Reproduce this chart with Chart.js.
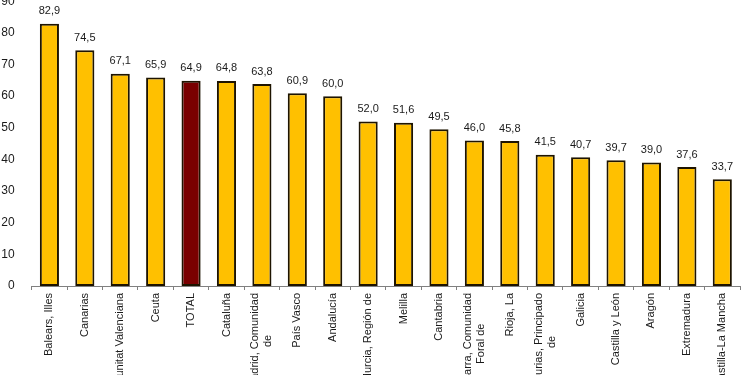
<!DOCTYPE html>
<html>
<head>
<meta charset="utf-8">
<script src="https://cdn.jsdelivr.net/npm/chart.js@4"></script>
<style>
  html,body{margin:0;padding:0;background:#fff;overflow:hidden;width:750px;height:375px;}
  #wrap{position:absolute;left:0;top:-15px;width:750px;height:430px;}
</style>
</head>
<body>
<div id="wrap"><canvas id="myChart"></canvas></div>
<script>
// regions, sorted by value (TOTAL in between)
const regiones=["Balears, Illes","Canarias","Comunitat Valenciana","Ceuta","TOTAL","Cataluña",
  ["Madrid, Comunidad","de"],"País Vasco","Andalucía","Murcia, Región de","Melilla","Cantabria",
  ["Navarra, Comunidad","Foral de"],"Rioja, La",["Asturias, Principado","de"],"Galicia",
  "Castilla y León","Aragón","Extremadura","Castilla-La Mancha"];
const valores=[82.9,74.5,67.1,65.9,64.9,64.8,63.8,60.9,60.0,52.0,51.6,49.5,46.0,45.8,41.5,40.7,39.7,39.0,37.6,33.7];
const yTicks=[0,10,20,30,40,50,60,70,80,90];

const FONT="Liberation Sans, Arial, sans-serif";

//value labels over bars
const valueLabels={
  id:'valueLabels',
  afterDatasetsDraw(chart){
    const ctx=chart.ctx;
    const meta=chart.getDatasetMeta(0);
    ctx.save();
    ctx.font='11px '+FONT;
    ctx.fillStyle='#1a1a1a';
    ctx.textAlign='center';
    ctx.textBaseline='bottom';
    meta.data.forEach((bar,i)=>{
      ctx.fillText(valores[i].toFixed(1).replace('.',','),bar.x,bar.y-7);
    });
    ctx.restore();
  }
};

//vertical category labels, lines centred like the original
const xLabels={
  id:'xLabels',
  afterDraw(chart){
    const ctx=chart.ctx;
    const xs=chart.scales.x;
    ctx.save();
    ctx.font='11px '+FONT;
    ctx.fillStyle='#1a1a1a';
    ctx.textAlign='center';
    ctx.textBaseline='middle';
    regiones.forEach((lab,i)=>{
      const lines=Array.isArray(lab)?lab:[lab];
      const w=Math.max(...lines.map(l=>ctx.measureText(l).width));
      const x=xs.getPixelForTick(i);
      ctx.save();
      ctx.translate(x,xs.top+7);
      ctx.rotate(-Math.PI/2);
      lines.forEach((l,k)=>{
        ctx.fillText(l,-w/2,(k-(lines.length-1)/2)*13);
      });
      ctx.restore();
    });
    ctx.restore();
  }
};

const ctx=document.getElementById('myChart');
new Chart(ctx,{
  type:'bar',
  data:{
    labels:regiones,
    datasets:[{
      data:valores,
      backgroundColor:regiones.map(r=>r==='TOTAL'?'#7a0000':'#ffc000'),
      borderColor:'#1e1400',
      borderWidth:2,
      borderSkipped:false,
      barPercentage:0.54,
      categoryPercentage:1
    }]
  },
  options:{
    responsive:true,
    maintainAspectRatio:false,
    animation:false,
    layout:{padding:{top:0,right:10,left:0,bottom:0}},
    plugins:{
      legend:{display:false},
      tooltip:{enabled:false}
    },
    scales:{
      x:{
        offset:true,
        grid:{display:true,drawOnChartArea:false,tickLength:4,color:'#808080'},
        border:{display:true,color:'#808080'},
        ticks:{display:false},
        afterFit(scale){scale.height=129;}
      },
      y:{
        min:0,
        max:90,
        afterBuildTicks(scale){scale.ticks=yTicks.map(v=>({value:v}));},
        grid:{display:false},
        border:{display:false},
        ticks:{font:{family:FONT,size:12},color:'#1a1a1a',padding:9},
        afterFit(scale){scale.width=31.7;}
      }
    }
  },
  plugins:[valueLabels,xLabels]
});
</script>
</body>
</html>
